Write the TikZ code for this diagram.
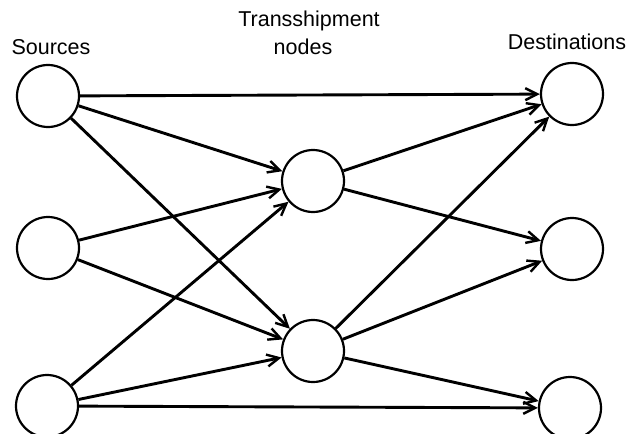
\documentclass[tikz,border=0pt]{standalone}
\usepackage{fontspec}
\setmainfont{Liberation Sans}
\usetikzlibrary{arrows.meta}
\begin{document}
\begin{tikzpicture}[x=1pt,y=-1pt,
  vert/.style={draw,circle,minimum size=62pt,inner sep=0pt,line width=2.2pt},
  flow/.style={line width=2.9pt,-{Straight Barb[length=12pt,width=12pt,line width=2.4pt]}},
  lbl/.style={font=\fontsize{21.5}{24}\selectfont,anchor=base,inner sep=0pt}]
\useasboundingbox (0,0) rectangle (636,433);
\clip (0,0) rectangle (636,433);
\node[vert] (s1) at (48,96) {};
\node[vert] (s2) at (48,248) {};
\node[vert] (s3) at (47,406) {};
\node[vert] (t1) at (313,181) {};
\node[vert] (t2) at (313,351) {};
\node[vert] (d1) at (572,94) {};
\node[vert] (d2) at (572,249) {};
\node[vert] (d3) at (570,408) {};
\node[lbl] (ls) at (51,55) {Sources};
\node[lbl] (lt) at (309,27) {Transshipment};
\node[lbl] (ln) at (303,55) {nodes};
\node[lbl] (ld) at (567,50) {Destinations};
\draw[flow] (s1) -- (d1);
\draw[flow] (s1) -- (t1);
\draw[flow] (s1) -- (t2);
\draw[flow] (s2) -- (t1);
\draw[flow] (s2) -- (t2);
\draw[flow] (s3) -- (t1);
\draw[flow] (s3) -- (t2);
\draw[flow] (s3) -- (d3);
\draw[flow] (t1) -- (d1);
\draw[flow] (t1) -- (d2);
\draw[flow] (t2) -- (d1);
\draw[flow] (t2) -- (d2);
\draw[flow] (t2) -- (d3);
\end{tikzpicture}
\end{document}
